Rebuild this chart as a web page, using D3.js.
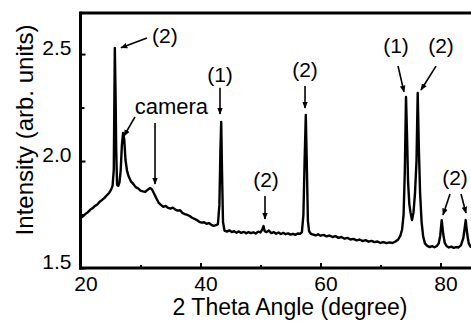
<!DOCTYPE html>
<html>
<head>
<meta charset="utf-8">
<script src="https://cdn.jsdelivr.net/npm/d3@7"></script>
<style>
  html, body { margin: 0; padding: 0; background: #fff; }
  svg { display: block; }
  text { font-family: "Liberation Sans", Arial, Helvetica, sans-serif; fill: #000; }
</style>
</head>
<body>
<svg id="chart" width="471" height="322"></svg>
<script>
// ---- data ----
const angles = [
  20.0,20.4,20.8,21.2,21.6,22.0,22.4,22.8,23.2,23.6,24.0,24.4,24.8,25.1,25.35,25.55,25.72,25.85,25.95,26.1,
  26.3,26.5,26.7,26.9,27.1,27.3,27.5,27.75,28.0,28.4,28.8,29.2,29.6,30.0,30.4,30.8,31.2,31.6,31.9,32.3,
  32.7,33.0,33.4,33.8,34.2,34.6,35.0,35.4,35.8,36.2,36.6,37.0,37.4,37.8,38.2,38.6,39.0,39.4,39.8,40.2,
  40.6,41.0,41.4,41.8,42.2,42.6,42.9,43.15,43.32,43.45,43.58,43.75,44.0,44.4,44.8,45.2,45.6,46.0,46.4,46.8,
  47.2,47.6,48.0,48.4,48.8,49.2,49.6,50.0,50.3,50.5,50.7,51.0,51.4,51.8,52.2,52.6,53.0,53.4,53.8,54.2,
  54.6,55.0,55.4,55.8,56.2,56.6,56.9,57.15,57.35,57.55,57.72,57.9,58.1,58.4,58.8,59.2,59.6,60.0,60.5,61.0,
  61.5,62.0,62.5,63.0,63.5,64.0,64.5,65.0,65.5,66.0,66.5,67.0,67.5,68.0,68.5,69.0,69.5,70.0,70.5,71.0,
  71.5,72.0,72.5,72.9,73.3,73.6,73.85,74.05,74.25,74.4,74.6,74.8,75.0,75.25,75.5,75.75,76.0,76.2,76.4,76.6,
  76.85,77.1,77.4,77.8,78.2,78.6,79.0,79.4,79.7,79.95,80.2,80.45,80.7,81.0,81.4,81.8,82.2,82.6,83.0,83.4,
  83.8,84.0,84.2,84.45,84.7,85.0,85.4,85.8
];
const intensity = [
  1.734,1.742,1.752,1.760,1.772,1.779,1.790,1.797,1.810,1.818,1.828,1.840,1.852,1.866,1.885,1.960,2.529,2.300,2.052,1.888,
  1.884,1.900,1.958,2.075,2.131,2.098,2.005,1.955,1.930,1.905,1.893,1.878,1.872,1.862,1.858,1.856,1.866,1.874,1.868,1.846,
  1.823,1.806,1.795,1.786,1.790,1.781,1.778,1.782,1.773,1.768,1.770,1.757,1.752,1.748,1.743,1.735,1.730,1.724,1.716,1.712,
  1.714,1.707,1.710,1.702,1.697,1.700,1.705,1.795,2.050,2.183,1.958,1.715,1.675,1.670,1.676,1.668,1.672,1.665,1.671,1.664,
  1.669,1.662,1.668,1.663,1.667,1.661,1.670,1.666,1.680,1.696,1.672,1.668,1.675,1.663,1.668,1.660,1.666,1.659,1.664,1.658,
  1.662,1.656,1.660,1.655,1.661,1.660,1.668,1.748,2.000,2.215,1.982,1.720,1.672,1.660,1.656,1.652,1.658,1.651,1.655,1.648,
  1.652,1.645,1.649,1.641,1.645,1.637,1.641,1.633,1.636,1.629,1.633,1.626,1.630,1.623,1.627,1.621,1.624,1.617,1.621,1.616,
  1.620,1.617,1.624,1.632,1.650,1.680,1.750,1.950,2.299,2.145,1.900,1.800,1.760,1.724,1.760,1.850,2.000,2.318,2.050,1.850,
  1.715,1.650,1.615,1.603,1.598,1.602,1.597,1.603,1.615,1.650,1.724,1.660,1.618,1.603,1.596,1.600,1.594,1.598,1.596,1.606,
  1.640,1.680,1.724,1.660,1.615,1.600,1.596,1.595
];

const xMajorTicks = [20, 40, 60, 80];
const xMinorTicks = [30, 50, 70];
const yMajorTicks = [1.5, 2.0, 2.5];
const yMinorTicks = [1.75, 2.25];

const xTitle = "2 Theta Angle (degree)";
const yTitle = "Intensity (arb. units)";

// annotation labels: text, anchor angle, anchor intensity, text-anchor
const noteText   = ["(2)", "camera", "(1)", "(2)", "(2)", "(1)", "(2)", "(2)"];
const noteAngle  = [31.92, 41.25, 43.25, 57.42, 50.92, 72.58, 80.08, 82.42];
const noteInt    = [2.552, 2.220, 2.370, 2.393, 1.879, 2.505, 2.505, 1.888];
const noteAnchor = ["start", "end", "middle", "middle", "middle", "middle", "middle", "middle"];

// arrows: from (angle,intensity) to (angle,intensity)
const arrowFromA = [31.08, 29.08, 32.42, 43.25, 57.42, 50.75, 72.92, 79.25, 81.58, 83.42];
const arrowFromI = [2.575, 2.206, 2.178, 2.342, 2.351, 1.837, 2.444, 2.444, 1.846, 1.846];
const arrowToA   = [26.75, 27.25, 32.42, 43.25, 57.42, 50.75, 73.92, 76.75, 80.42, 84.25];
const arrowToI   = [2.529, 2.117, 1.893, 2.220, 2.248, 1.729, 2.323, 2.332, 1.748, 1.757];

// ---- drawing ----
const svg = d3.select("#chart");
const x = d3.scaleLinear().domain([20, 85.5]).range([80.5, 80.5 + 6 * 65.5]);
const y = d3.scaleLinear().domain([1.5, 2.692]).range([268, 13]);

svg.append("defs").append("marker")
  .attr("id", "ah").attr("viewBox", "0 0 10 10")
  .attr("refX", 9).attr("refY", 5)
  .attr("markerWidth", 7).attr("markerHeight", 7)
  .attr("markerUnits", "userSpaceOnUse")
  .attr("orient", "auto")
  .append("path").attr("d", "M0,1 L10,5 L0,9 Z").attr("fill", "#000");

// spectrum
const pts = angles.map((a, i) => [a, intensity[i]]);
const line = d3.line().x(d => x(d[0])).y(d => y(d[1]));
svg.append("path").datum(pts)
  .attr("d", line).attr("fill", "none").attr("stroke", "#000")
  .attr("stroke-width", 2.4).attr("stroke-linejoin", "round");

// top border
svg.append("line").attr("x1", x(20)).attr("x2", 471)
  .attr("y1", y.range()[1]).attr("y2", y.range()[1])
  .attr("stroke", "#000").attr("stroke-width", 3);

// x axis
const xAxis = d3.axisBottom(x).tickValues(xMajorTicks).tickSize(-5).tickPadding(8).tickFormat(d3.format("d"));
const gx = svg.append("g").attr("transform", `translate(0,${y(1.5)})`).call(xAxis);
gx.select(".domain").remove();
gx.selectAll(".tick line").attr("stroke-width", 2);
gx.selectAll(".tick text").attr("font-size", 21).attr("dx", 5)
  .style("font-family", '"Liberation Sans", Arial, sans-serif');
const gxm = svg.append("g").attr("transform", `translate(0,${y(1.5)})`)
  .call(d3.axisBottom(x).tickValues(xMinorTicks).tickSize(-3).tickFormat(""));
gxm.select(".domain").remove();
gxm.selectAll(".tick line").attr("stroke-width", 2);
svg.append("line").attr("x1", x(20) - 1.5).attr("x2", 471)
  .attr("y1", y(1.5)).attr("y2", y(1.5)).attr("stroke", "#000").attr("stroke-width", 3);

// y axis
const yAxis = d3.axisLeft(y).tickValues(yMajorTicks).tickSize(-5).tickPadding(9).tickFormat(d3.format(".1f"));
const gy = svg.append("g").attr("transform", `translate(${x(20)},0)`).call(yAxis);
gy.select(".domain").remove();
gy.selectAll(".tick line").attr("stroke-width", 2);
gy.selectAll(".tick text").attr("font-size", 21).attr("dy", "0.0em")
  .style("font-family", '"Liberation Sans", Arial, sans-serif');
const gym = svg.append("g").attr("transform", `translate(${x(20)},0)`)
  .call(d3.axisLeft(y).tickValues(yMinorTicks).tickSize(-4).tickFormat(""));
gym.select(".domain").remove();
gym.selectAll(".tick line").attr("stroke-width", 2);
svg.append("line").attr("x1", x(20)).attr("x2", x(20))
  .attr("y1", y.range()[1] - 1.5).attr("y2", y(1.5) + 1.5).attr("stroke", "#000").attr("stroke-width", 3);

// titles
svg.append("text").attr("x", 290).attr("y", 315)
  .attr("text-anchor", "middle").attr("font-size", 23).text(xTitle);
svg.append("text").attr("transform", "translate(33,130) rotate(-90)")
  .attr("text-anchor", "middle").attr("font-size", 24).text(yTitle);

// annotations
noteText.forEach((t, i) => {
  svg.append("text").attr("x", x(noteAngle[i])).attr("y", y(noteInt[i]))
    .attr("text-anchor", noteAnchor[i]).attr("font-size", t === "camera" ? 22 : 21).text(t);
});
arrowFromA.forEach((a, i) => {
  svg.append("line")
    .attr("x1", x(a)).attr("y1", y(arrowFromI[i]))
    .attr("x2", x(arrowToA[i])).attr("y2", y(arrowToI[i]))
    .attr("stroke", "#000").attr("stroke-width", 1.6)
    .attr("marker-end", "url(#ah)");
});
</script>
</body>
</html>
